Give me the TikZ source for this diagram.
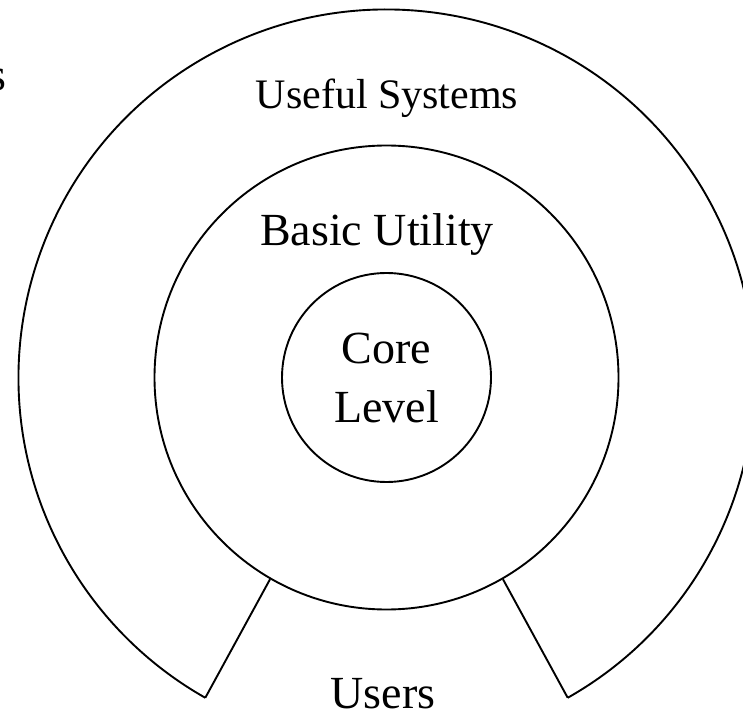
\documentclass[tikz,border=0pt]{standalone}
\usepackage{fontspec}
\setmainfont{Liberation Serif}
\usetikzlibrary{calc}
\begin{document}
\begin{tikzpicture}[x=1pt,y=1pt,
  ring/.style={draw, circle, line width=1.9pt, inner sep=0pt},
  lbl/.style={font=\fontsize{46}{59}\selectfont, inner sep=0pt},
  edge/.style={line width=1.9pt}]
\useasboundingbox (0,0) rectangle (743,715);
\clip (0,0) rectangle (743,715);
\coordinate (c) at (386.5,337.5);
% middle and inner circles
\node[ring, minimum size=464pt] (basic) at (c) {};
\node[ring, minimum size=209pt, lbl, align=center] (core) at (c) {Core\\Level};
% outer arc with gap
\coordinate (oR) at ($(c)+(-60.5:368)$);
\coordinate (oL) at ($(c)+(240.5:368)$);
\draw[edge] (oR) arc[start angle=-60.5, end angle=240.5, radius=368];
\draw[edge] (basic.240.5) -- (oL);
\draw[edge] (basic.-60.5) -- (oR);
% labels
\node[lbl, anchor=base, font=\fontsize{42}{50}\selectfont] (useful) at (387,606) {Useful Systems};
\node[lbl, anchor=base] (utility) at (377,469) {Basic Utility};
\node[lbl, anchor=base] (users) at (383,7) {Users};
\node[lbl, anchor=base east] (cut) at (7,624) {s};
\end{tikzpicture}
\end{document}
